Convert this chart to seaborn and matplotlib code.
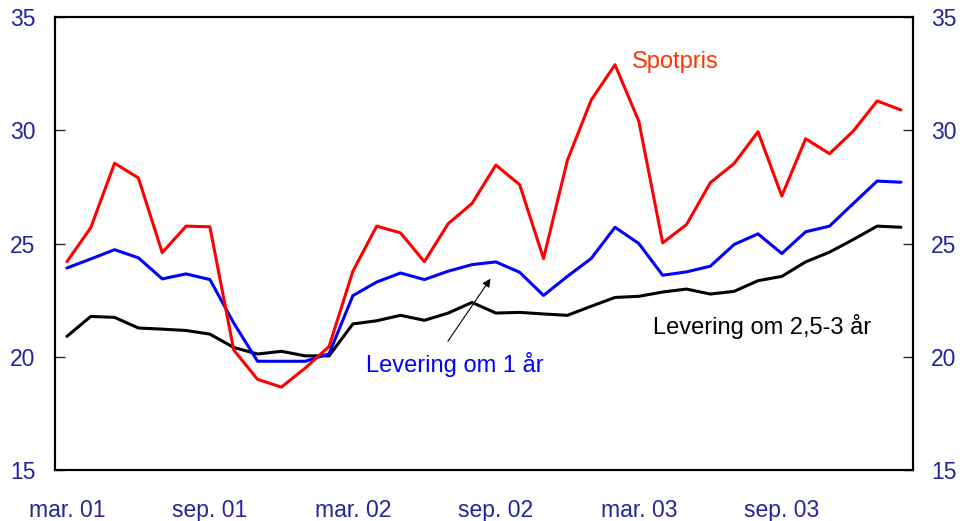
import numpy as np
import pandas as pd
import seaborn as sns
import matplotlib.pyplot as plt

# monthly, mar. 01 - feb. 04
months = ['mar. 01', 'apr. 01', 'mai. 01', 'jun. 01', 'jul. 01', 'aug. 01',
          'sep. 01', 'okt. 01', 'nov. 01', 'des. 01', 'jan. 02', 'feb. 02',
          'mar. 02', 'apr. 02', 'mai. 02', 'jun. 02', 'jul. 02', 'aug. 02',
          'sep. 02', 'okt. 02', 'nov. 02', 'des. 02', 'jan. 03', 'feb. 03',
          'mar. 03', 'apr. 03', 'mai. 03', 'jun. 03', 'jul. 03', 'aug. 03',
          'sep. 03', 'okt. 03', 'nov. 03', 'des. 03', 'jan. 04', 'feb. 04']

spotpris = [24.2, 25.7, 28.55, 27.9, 24.6, 25.77, 25.74, 20.3, 19.0, 18.66,
            19.5, 20.45, 23.78, 25.77, 25.47, 24.2, 25.88, 26.77, 28.47, 27.6,
            24.34, 28.67, 31.34, 32.9, 30.4, 25.03, 25.84, 27.69, 28.54, 29.94,
            27.1, 29.63, 28.97, 29.97, 31.3, 30.9]

levering_1 = [23.92, 24.32, 24.73, 24.37, 23.44, 23.66, 23.41, 21.49, 19.8, 19.8,
              19.8, 20.13, 22.7, 23.3, 23.7, 23.41, 23.78, 24.07, 24.19, 23.73,
              22.71, 23.55, 24.34, 25.72, 25.0, 23.6, 23.75, 24.0, 24.96, 25.43,
              24.56, 25.52, 25.77, 26.77, 27.76, 27.71]

levering_3 = [20.9, 21.78, 21.74, 21.27, 21.22, 21.16, 21.0, 20.41, 20.12, 20.24,
              20.04, 20.04, 21.45, 21.59, 21.83, 21.61, 21.93, 22.4, 21.93, 21.96,
              21.89, 21.83, 22.23, 22.62, 22.67, 22.86, 22.99, 22.77, 22.89, 23.36,
              23.55, 24.19, 24.62, 25.18, 25.77, 25.72]

y_ticks = [15, 20, 25, 30, 35]

df = pd.DataFrame({'idx': np.arange(len(months)), 'spot': spotpris,
                   'lev1': levering_1, 'lev3': levering_3})

sns.set_style('white')
plt.rcParams['font.family'] = ['Liberation Sans', 'DejaVu Sans']

label_color = '#25259a'
fs = 16.5
fig, ax = plt.subplots(figsize=(9.65, 5.21), dpi=100)
fig.subplots_adjust(left=0.057, right=0.946, top=0.967, bottom=0.098)

sns.lineplot(data=df, x='idx', y='lev3', color='black', linewidth=2.2, ax=ax)
sns.lineplot(data=df, x='idx', y='lev1', color='#0000ff', linewidth=2.2, ax=ax)
sns.lineplot(data=df, x='idx', y='spot', color='#ff0000', linewidth=2.2, ax=ax)

ax.set_xlim(-0.5, len(months) - 0.5)
ax.set_ylim(15, 35)
ax.set_xlabel('')
ax.set_ylabel('')

# labels on every 6th month, tick marks between categories
lab_pos = list(range(0, len(months), 6))
ax.set_xticks(lab_pos)
ax.set_xticklabels([months[i] for i in lab_pos])
ax.set_xticks([i - 0.5 for i in lab_pos[1:]], minor=True)
ax.tick_params(axis='x', which='major', length=0, pad=21, labelsize=fs,
               labelcolor=label_color)
ax.tick_params(axis='x', which='minor', direction='in', length=7, width=1)

ax.set_yticks(y_ticks)
ax.tick_params(axis='y', direction='in', length=7, width=1, labelsize=fs,
               labelcolor=label_color, pad=14)

ax2 = ax.twinx()
ax2.set_ylim(15, 35)
ax2.set_yticks(y_ticks)
ax2.tick_params(axis='y', direction='in', length=7, width=1, labelsize=fs,
                labelcolor=label_color, pad=13)

for a in (ax, ax2):
    for s in a.spines.values():
        s.set_visible(True)
        s.set_color('black')
        s.set_linewidth(1.5)

ax.text(23.7, 33.0, 'Spotpris', color='#ff3300', fontsize=17, va='center')
ax.text(12.55, 19.65, 'Levering om 1 år', color='#0000ff', fontsize=17, va='center')
ax.text(24.6, 21.33, 'Levering om 2,5-3 år', color='black', fontsize=17, va='center')
ax.annotate('', xy=(17.84, 23.55), xytext=(15.92, 20.58),
            arrowprops=dict(arrowstyle='-|>', color='black', lw=0.8,
                            mutation_scale=12))

fig.savefig('out.png', dpi=100)
